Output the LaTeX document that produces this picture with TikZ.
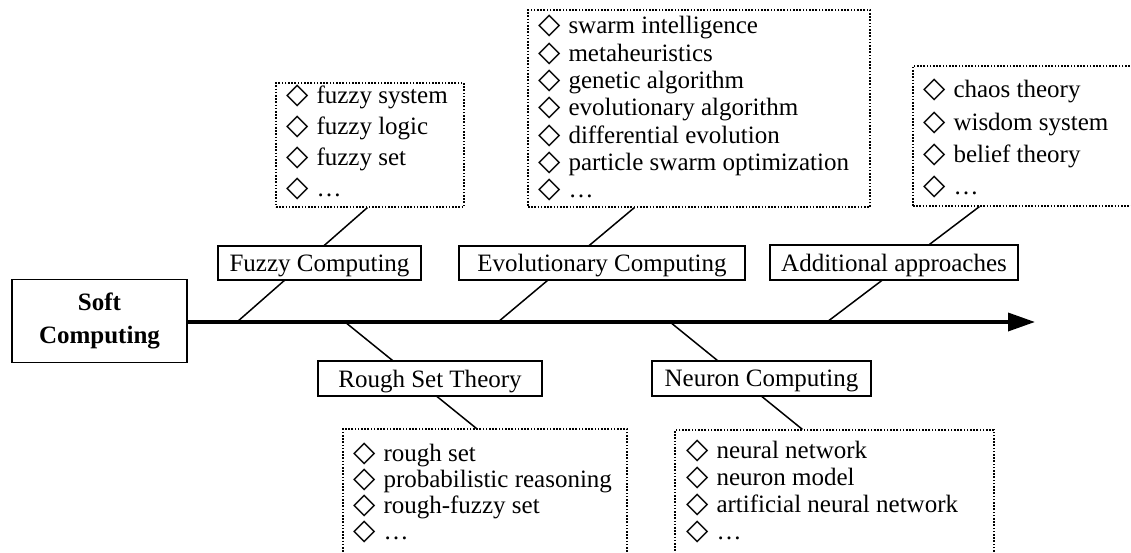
\documentclass[tikz,border=0pt]{standalone}
\usepackage{fontspec}
\setmainfont{Liberation Serif}
\newfontfamily\symfam{DejaVu Sans}
\usetikzlibrary{arrows.meta}
\newcommand{\itemdia}{{\symfam\fontsize{29}{30}\selectfont ◇}\hspace{8pt}}
\tikzset{
  lbl/.style={draw, line width=1.3pt, fill=white, inner sep=0pt, minimum height=34pt,
              text depth=0pt, font=\fontsize{25}{30}\selectfont},
  lst/.style={draw, line width=1.2pt, dash pattern=on 1.6pt off 1.6pt, inner sep=0pt},
  itm/.style={anchor=base west, inner sep=0pt, font=\fontsize{25}{30}\selectfont},
  branch/.style={line width=1.5pt},
  spine/.style={line width=3.5pt, -{Triangle[length=27pt,width=18pt]}},
}
\begin{document}
\begin{tikzpicture}[x=1pt,y=-1pt]
\useasboundingbox (0,0) rectangle (1131,553);
\clip (0,0) rectangle (1131,553);

% root box
\node[draw, line width=1.5pt, minimum width=175pt, minimum height=83pt, inner sep=0pt,
      align=center, font=\fontsize{25}{33}\selectfont\bfseries] (soft) at (99.5,321) {Soft\\Computing};

% spine
\coordinate (tip) at (1035,322);
\draw[spine] (soft.east |- tip) -- (tip);

% feet on spine
\coordinate (fzfoot) at (237,322);
\coordinate (evfoot) at (498,322);
\coordinate (adfoot) at (827,322);
\coordinate (rsfoot) at (345,322);
\coordinate (ncfoot) at (670,322);

% list boxes
\node[lst, minimum width=188pt, minimum height=124pt] (fzlist) at (370,145) {};
\node[lst, minimum width=342pt, minimum height=197pt] (evlist) at (699,108.5) {};
\node[lst, minimum width=232pt, minimum height=140pt] (adlist) at (1029,136) {};
\node[lst, minimum width=284pt, minimum height=146pt] (rslist) at (485,502) {};
\node[lst, minimum width=319pt, minimum height=145pt] (nclist) at (834.5,502.5) {};

% branches
\draw[branch] (fzfoot) -- ([xshift=92pt]fzlist.south west);
\draw[branch] (evfoot) -- ([xshift=107pt]evlist.south west);
\draw[branch] (adfoot) -- ([xshift=67pt]adlist.south west);
\draw[branch] (rsfoot) -- ([xshift=134pt]rslist.north west);
\draw[branch] (ncfoot) -- ([xshift=128pt]nclist.north west);

% category labels
\node[lbl, minimum width=203pt] (fz) at (319.5,263) {Fuzzy Computing};
\node[lbl, minimum width=286pt] (ev) at (602,263) {Evolutionary Computing};
\node[lbl, minimum width=248pt, minimum height=35pt] (ad) at (894,262.5) {Additional approaches};
\node[lbl, minimum width=224pt, minimum height=35pt] (rs) at (430,378.5) {Rough Set Theory};
\node[lbl, minimum width=219pt, minimum height=35pt] (nc) at (761.5,378.5) {Neuron Computing};

% list items
\foreach \t [count=\i from 0] in {fuzzy system, fuzzy logic, fuzzy set, …}
  \node[itm] (fz-\i) at (286,{104+31*\i}) {\itemdia\t};
\foreach \t [count=\i from 0] in {swarm intelligence, metaheuristics, genetic algorithm,
    evolutionary algorithm, differential evolution, particle swarm optimization, …}
  \node[itm] (ev-\i) at (538,{34+27.3*\i}) {\itemdia\t};
\foreach \t [count=\i from 0] in {chaos theory, wisdom system, belief theory, …}
  \node[itm] (ad-\i) at (923,{98+32.3*\i}) {\itemdia\t};
\foreach \t [count=\i from 0] in {rough set, probabilistic reasoning, rough-fuzzy set, …}
  \node[itm] (rs-\i) at (353,{461+26.3*\i}) {\itemdia\t};
\foreach \t [count=\i from 0] in {neural network, neuron model, artificial neural network, …}
  \node[itm] (nc-\i) at (686,{458+27.3*\i}) {\itemdia\t};
\end{tikzpicture}
\end{document}
